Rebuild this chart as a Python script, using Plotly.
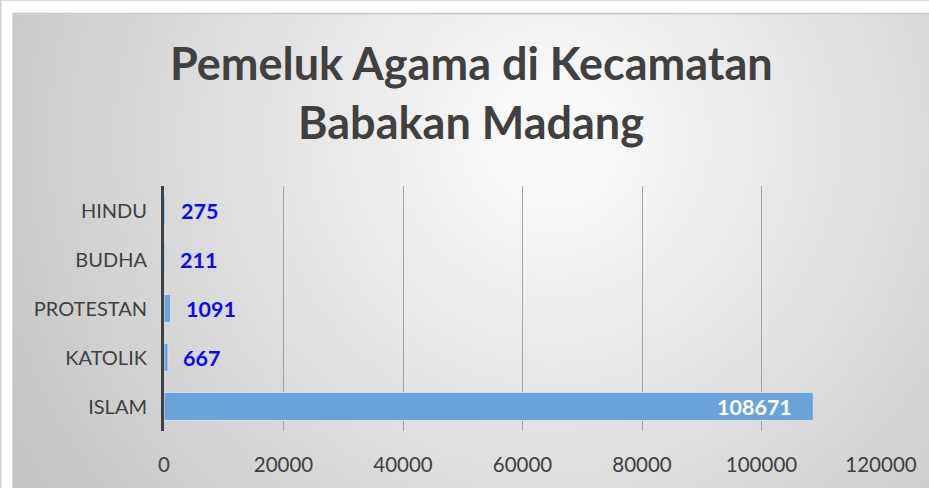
import base64
import struct
import zlib

import numpy as np
import plotly.graph_objects as go

# ---------------- data ----------------
categories = ["ISLAM", "KATOLIK", "PROTESTAN", "BUDHA", "HINDU"]
values = [108671, 667, 1091, 211, 275]
x_ticks = [0, 20000, 40000, 60000, 80000, 100000, 120000]
title_lines = ["Pemeluk Agama di Kecamatan", "Babakan Madang"]

# ---------------- geometry ----------------
W, H = 929, 488
L, R, T, B = 164, 887, 186, 432   # plot area in pixels
IW, IH = W + 30, H + 30           # background image a bit larger than page


def px_to_paper_x(px):
    return (px - L) / (R - L)


def px_to_paper_y(py):
    return (B - py) / (B - T)


# ---------------- background gradient (radial, as PNG) ----------------
yy, xx = np.mgrid[0:IH, 0:IW]
d = np.sqrt((xx - 555.0) ** 2 + (yy - 140.0) ** 2)
g = np.clip(254.0 - 0.092 * d, 196, 250)
g[:, :11] = 255
g[:12, :] = 255
g[12, 11:] = 195
g[13, 11:] = 215
img = g.astype(np.uint8)

raw = b"".join(b"\x00" + img[r].tobytes() for r in range(IH))


def chunk(tag, data):
    c = struct.pack(">I", len(data)) + tag + data
    return c + struct.pack(">I", zlib.crc32(tag + data) & 0xFFFFFFFF)


png = b"\x89PNG\r\n\x1a\n"
png += chunk(b"IHDR", struct.pack(">IIBBBBB", IW, IH, 8, 0, 0, 0, 0))
png += chunk(b"IDAT", zlib.compress(raw, 9))
png += chunk(b"IEND", b"")
bg_uri = "data:image/png;base64," + base64.b64encode(png).decode()

# ---------------- figure ----------------
FONT = "Lato"
TXT = "#404040"

fig = go.Figure()
fig.add_trace(go.Bar(
    x=values,
    y=categories,
    orientation="h",
    width=0.57,
    marker=dict(color="#6aa3d8", line=dict(color="#cfe1f3", width=1)),
    hoverinfo="x+y",
))

annotations = []
for cat, val in zip(categories, values):
    if val > 50000:
        annotations.append(dict(
            x=val, y=cat, xref="x", yref="y", text=f"<b>{val}</b>",
            xanchor="right", yanchor="middle", xshift=-19, showarrow=False,
            font=dict(family=FONT, size=21.5, color="white"),
        ))
    else:
        annotations.append(dict(
            x=val, y=cat, xref="x", yref="y", text=f"<b>{val}</b>",
            xanchor="left", yanchor="middle", xshift=13, showarrow=False,
            font=dict(family=FONT, size=21.5, color="#0a0aee"),
        ))

for line, py in zip(title_lines, [62, 122]):
    annotations.append(dict(
        x=px_to_paper_x(474), y=px_to_paper_y(py), xref="paper", yref="paper",
        text=f"<b>{line}</b>", xanchor="center", yanchor="middle",
        showarrow=False, font=dict(family=FONT, size=45, color=TXT),
    ))

fig.update_layout(
    width=W,
    height=H,
    margin=dict(l=L, r=W - R, t=T, b=H - B, pad=0),
    paper_bgcolor="#cccccc",
    plot_bgcolor="rgba(0,0,0,0)",
    showlegend=False,
    font=dict(family=FONT, size=20, color=TXT),
    annotations=annotations,
    images=[dict(
        source=bg_uri, xref="paper", yref="paper",
        x=px_to_paper_x(0), y=px_to_paper_y(0),
        sizex=IW / (R - L), sizey=IH / (B - T),
        xanchor="left", yanchor="top", sizing="stretch", layer="below",
    )],
    xaxis=dict(
        range=[0, 120000],
        tickvals=x_ticks,
        ticktext=[str(t) for t in x_ticks],
        showgrid=True,
        gridcolor="#a3a3a3",
        gridwidth=1,
        zeroline=False,
        showline=False,
        ticks="outside",
        ticklen=15,
        tickcolor="rgba(0,0,0,0)",
        tickfont=dict(family=FONT, size=20.5, color=TXT),
        fixedrange=True,
    ),
    yaxis=dict(
        categoryorder="array",
        categoryarray=categories,
        range=[-0.5, 4.5],
        showgrid=False,
        zeroline=False,
        showline=True,
        linecolor="#404040",
        linewidth=3,
        ticks="outside",
        ticklen=10,
        tickcolor="rgba(0,0,0,0)",
        tickfont=dict(family=FONT, size=20, color=TXT),
        fixedrange=True,
    ),
)

fig.write_html(
    "out.html",
    config={"displayModeBar": False, "responsive": False},
    post_script=(
        "document.documentElement.style.margin='0';"
        "document.body.style.margin='0';"
        "document.documentElement.style.background='#cccccc';"
        "document.body.style.background='#cccccc';"
        "document.body.style.overflow='hidden';"
    ),
)
